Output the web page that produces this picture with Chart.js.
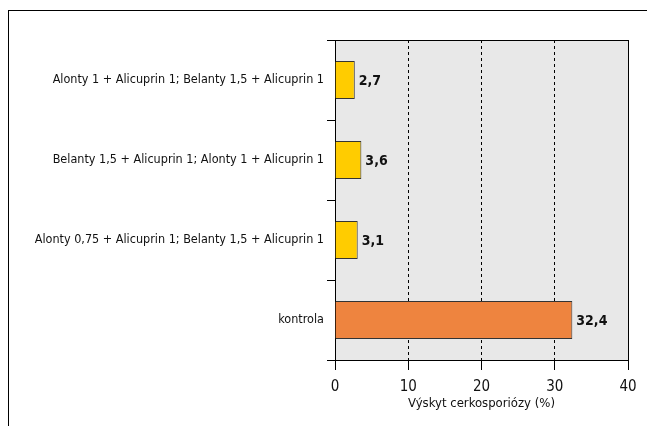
<!DOCTYPE html>
<html>
<head>
<meta charset="utf-8">
<script src="https://cdn.jsdelivr.net/npm/chart.js@4/dist/chart.umd.min.js"></script>
<style>
  html, body { margin: 0; padding: 0; background: #fff; }
  #wrap { position: relative; width: 647px; height: 426px; }
  #ramecek { position: absolute; left: 8px; top: 10px; right: 0; bottom: 0;
             border-top: 1px solid #000; border-left: 1px solid #000; }
  canvas { position: absolute; left: 0; top: 0; }
</style>
</head>
<body>
<div id="wrap">
  <div id="ramecek"></div>
  <canvas id="graf" width="647" height="426"></canvas>
</div>
<script>
// varianty ošetření
const varianty = [
  'Alonty 1 + Alicuprin 1; Belanty 1,5 + Alicuprin 1',
  'Belanty 1,5 + Alicuprin 1; Alonty 1 + Alicuprin 1',
  'Alonty 0,75 + Alicuprin 1; Belanty 1,5 + Alicuprin 1',
  'kontrola'
];
// výskyt cerkosporiózy v %
const vyskyt = [2.7, 3.6, 3.1, 32.4];
const barvy = ['#ffcc00', '#ffcc00', '#ffcc00', '#ee843f'];
const osaX = { min: 0, max: 40, krok: 10 };
const nazevOsyX = 'Výskyt cerkosporiózy (%)';

const pismo = '"Liberation Sans Narrow", "Arial Narrow", "DejaVu Sans Condensed", sans-serif';

// popisky hodnot vedle sloupců
const popiskyHodnot = {
  id: 'popiskyHodnot',
  afterDatasetsDraw(chart) {
    const ctx = chart.ctx;
    const meta = chart.getDatasetMeta(0);
    ctx.save();
    ctx.font = 'bold 14px ' + pismo;
    ctx.fillStyle = '#111';
    ctx.textAlign = 'left';
    ctx.textBaseline = 'middle';
    meta.data.forEach(function(bar, i) {
      const text = String(vyskyt[i]).replace('.', ',');
      ctx.fillText(text, bar.x + 4, bar.y + 1);
    });
    ctx.restore();
  }
};

// šedé pozadí plochy grafu
const pozadi = {
  id: 'pozadi',
  beforeDraw(chart) {
    const a = chart.chartArea;
    chart.ctx.save();
    chart.ctx.fillStyle = '#e8e8e8';
    chart.ctx.fillRect(a.left, a.top, a.right - a.left, a.bottom - a.top);
    chart.ctx.restore();
  }
};

new Chart(document.getElementById('graf'), {
  type: 'bar',
  data: {
    labels: varianty,
    datasets: [{
      data: vyskyt,
      backgroundColor: barvy,
      borderColor: '#333',
      borderWidth: 1,
      borderSkipped: 'left',
      barPercentage: 0.475,
      categoryPercentage: 1
    }]
  },
  options: {
    indexAxis: 'y',
    responsive: false,
    animation: false,
    layout: { padding: { left: 0, top: 40, right: 19, bottom: 15 } },
    plugins: {
      legend: { display: false },
      tooltip: { enabled: false }
    },
    scales: {
      x: {
        min: osaX.min,
        max: osaX.max,
        ticks: {
          stepSize: osaX.krok,
          color: '#111',
          padding: 8,
          font: { family: pismo, size: 15 }
        },
        grid: {
          color: function(c) { return c.index === 0 ? 'transparent' : '#000'; },
          tickColor: '#000',
          tickLength: 10,
          lineWidth: 1
        },
        border: {
          color: '#000',
          width: 1,
          dash: function(c) {
            return (c.tick && c.tick.value > osaX.min && c.tick.value < osaX.max) ? [3, 3] : [];
          }
        },
        title: {
          display: true,
          text: nazevOsyX,
          color: '#111',
          padding: { top: 0, bottom: 0 },
          font: { family: pismo, size: 13 }
        },
        afterFit: function(s) { s.height = 51; }
      },
      y: {
        ticks: {
          color: '#111',
          padding: 3,
          font: { family: pismo, size: 12.5 }
        },
        grid: {
          offset: true,
          color: function(c) { return c.index === 0 ? '#000' : 'transparent'; },
          tickColor: '#000',
          tickLength: 8,
          lineWidth: 1
        },
        border: { color: '#000', width: 1 },
        afterFit: function(s) { s.width = 335; }
      }
    }
  },
  plugins: [pozadi, popiskyHodnot]
});
</script>
</body>
</html>
